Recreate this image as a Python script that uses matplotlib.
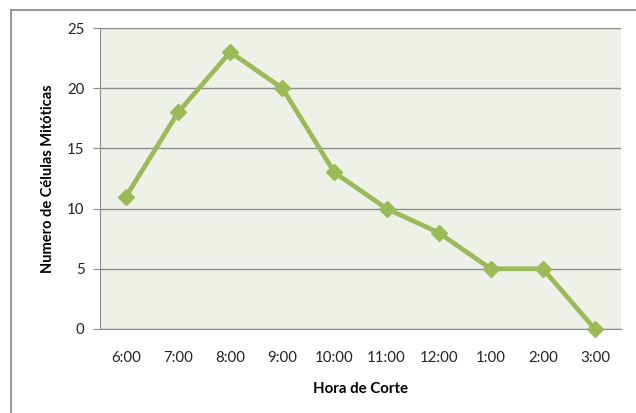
import matplotlib
matplotlib.use("Agg")
import matplotlib.pyplot as plt
from matplotlib.lines import Line2D

categories = ["6:00", "7:00", "8:00", "9:00", "10:00", "11:00", "12:00", "1:00", "2:00", "3:00"]
values = [11, 18, 23, 20, 13, 10, 8, 5, 5, 0]
y_ticks = [0, 5, 10, 15, 20, 25]

plt.rcParams['font.family'] = ['Lato', 'DejaVu Sans']

W, H = 636, 413
fig = plt.figure(figsize=(W / 100, H / 100), dpi=100)
fig.patch.set_facecolor("white")

ax = fig.add_axes([100 / W, 1 - 329 / H, (621 - 100) / W, (329 - 28) / H])
ax.set_facecolor("#EEF1E8")

x = list(range(len(categories)))
ax.plot(x, values, color="#9BBB59", linewidth=3.4, marker="D", markersize=8,
        markerfacecolor="#9BBB59", markeredgecolor="#9BBB59", solid_joinstyle="miter", zorder=3, clip_on=False)

ax.set_xlim(-0.5, len(categories) - 0.5)
ax.set_ylim(0, 25)
ax.set_yticks(y_ticks)
ax.set_xticks(x)
ax.set_xticklabels(categories)
ax.yaxis.grid(True, color="#8C8C8C", linewidth=1.0)
ax.set_axisbelow(True)

for s in ["top", "right"]:
    ax.spines[s].set_visible(False)
ax.spines["left"].set_color("#8C8C8C")
ax.spines["bottom"].set_color("#8C8C8C")
ax.tick_params(axis="y", length=5, color="#8C8C8C", labelsize=10.8, labelcolor="#222222", pad=6)
ax.tick_params(axis="x", length=0, labelsize=10.8, labelcolor="#222222", pad=16)

ax.set_xlabel("Hora de Corte", fontsize=10.8, fontweight="bold", labelpad=12)
ax.set_ylabel("Numero de Células Mitóticas", fontsize=10.5, fontweight="bold", labelpad=9)

# outer frame (top and left only visible)
fig.add_artist(Line2D([10.5 / W, 1.0], [1 - 9.5 / H, 1 - 9.5 / H], color="#8C8C8C", linewidth=1.3, transform=fig.transFigure))
fig.add_artist(Line2D([10.5 / W, 10.5 / W], [0, 1 - 9.5 / H], color="#8C8C8C", linewidth=1.3, transform=fig.transFigure))

fig.savefig("out.png", dpi=100, facecolor="white")
